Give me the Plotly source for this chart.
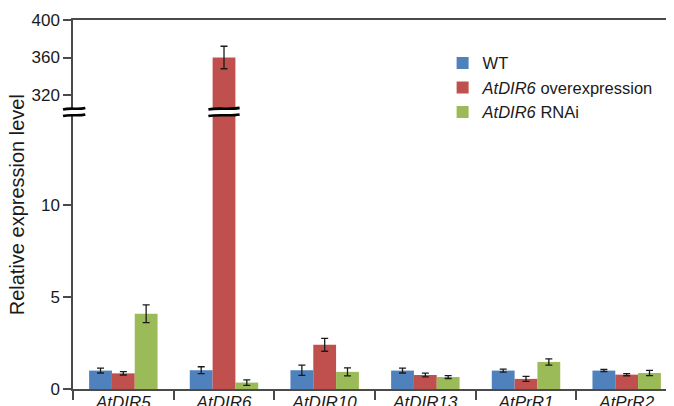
import plotly.graph_objects as go

categories = ["AtDIR5", "AtDIR6", "AtDIR10", "AtDIR13", "AtPrR1", "AtPrR2"]
series_names = ["WT", "<i>AtDIR6</i> overexpression", "<i>AtDIR6</i> RNAi"]
wt = [1.0, 1.02, 1.02, 1.0, 1.0, 1.0]
wt_err = [0.13, 0.19, 0.28, 0.13, 0.08, 0.06]
oe = [0.85, 360.0, 2.4, 0.76, 0.55, 0.78]
oe_err = [0.09, 12.0, 0.35, 0.1, 0.14, 0.06]
rnai = [4.09, 0.35, 0.93, 0.65, 1.47, 0.87]
rnai_err = [0.48, 0.15, 0.22, 0.08, 0.17, 0.14]
colors = ["#4F81BD", "#C0504D", "#9BBB59"]

lower_ticks = [0, 5, 10]
upper_ticks = [320, 360, 400]
lower_range = [0, 15.05]
upper_range = [301.9, 400]
split = 0.7507

FONT = "Liberation Sans, Arial, sans-serif"
AX = "#4a4a4a"

fig = go.Figure()
data = [(wt, wt_err), (oe, oe_err), (rnai, rnai_err)]
for i, (vals, errs) in enumerate(data):
    for xa, ya, show in (("x", "y", True), ("x2", "y2", False)):
        fig.add_trace(go.Bar(
            x=categories, y=vals, name=series_names[i],
            marker=dict(color=colors[i], line=dict(width=0)),
            error_y=dict(type="data", array=errs, visible=True, color="#1a1a1a",
                         thickness=1.3, width=3.5),
            xaxis=xa, yaxis=ya, showlegend=show, legendgroup=f"g{i}",
        ))

# the page body has an 8px margin, so the figure is sized to end at the window edge
fig.update_layout(
    width=666, height=398,
    margin=dict(l=65, r=0, t=12, b=17, autoexpand=False),
    paper_bgcolor="white", plot_bgcolor="white",
    barmode="group", bargap=0.32, bargroupgap=0,
    font=dict(family=FONT, size=16, color="#1a1a1a"),
    showlegend=True,
    legend=dict(x=0.615, y=0.93, xanchor="left", yanchor="top",
                font=dict(family=FONT, size=16.5, color="#1a1a1a"),
                bgcolor="rgba(0,0,0,0)", tracegroupgap=0, traceorder="grouped"),
    xaxis=dict(anchor="y", domain=[0, 1], range=[-0.5, 5.47], automargin=False,
               showline=True, linecolor=AX, linewidth=1.5,
               ticks="outside", tickson="boundaries", ticklen=9, tickcolor=AX, tickwidth=1.5,
               ticklabelstandoff=-3,
               tickfont=dict(family=FONT, size=17, style="italic", color="#1a1a1a"),
               showgrid=False, zeroline=False),
    xaxis2=dict(anchor="y2", matches="x", range=[-0.5, 5.47], side="top", automargin=False,
                showline=True, linecolor=AX, linewidth=1.5, ticks="",
                showticklabels=False, showgrid=False, zeroline=False),
    yaxis=dict(domain=[0, split], range=lower_range, tickvals=lower_ticks, automargin=False,
               showline=True, linecolor=AX, linewidth=1.5,
               ticks="outside", ticklen=8, tickcolor=AX, tickwidth=1.5,
               tickfont=dict(family=FONT, size=17, color="#1a1a1a"),
               showgrid=False, zeroline=False),
    yaxis2=dict(domain=[split, 1], range=upper_range, tickvals=upper_ticks, automargin=False,
                showline=True, linecolor=AX, linewidth=1.5,
                ticks="outside", ticklen=8, tickcolor=AX, tickwidth=1.5,
                tickfont=dict(family=FONT, size=17, color="#1a1a1a"),
                showgrid=False, zeroline=False),
)

fig.add_annotation(text="Relative expression level", textangle=-90,
                   xref="paper", yref="paper", x=-0.0935, y=0.5,
                   xanchor="center", yanchor="middle", showarrow=False,
                   font=dict(family=FONT, size=20, color="#1a1a1a"))

# axis-break marks
PX = 1 / 369.0
def wave(x0, x1, yc):
    w = x1 - x0
    return (f"M {x0},{yc - 0.8*PX} C {x0 + w*0.33},{yc + 1.2*PX} "
            f"{x0 + w*0.67},{yc - 1.2*PX} {x1},{yc + 0.8*PX}")

for (x0, x1, xref) in ((-0.0166, 0.0205, "paper"), (1 - 0.155, 1 + 0.155, "x")):
    yc = split
    fig.add_shape(type="rect", xref=xref, yref="paper", x0=x0, x1=x1,
                  y0=yc - 3.0*PX, y1=yc + 3.0*PX, fillcolor="white",
                  line=dict(width=0), layer="above")
    for dy in (-3.3*PX, 3.3*PX):
        fig.add_shape(type="path", xref=xref, yref="paper",
                      path=wave(x0, x1, yc + dy),
                      line=dict(color="black", width=2.6), layer="above")

fig.write_html("out.html")
